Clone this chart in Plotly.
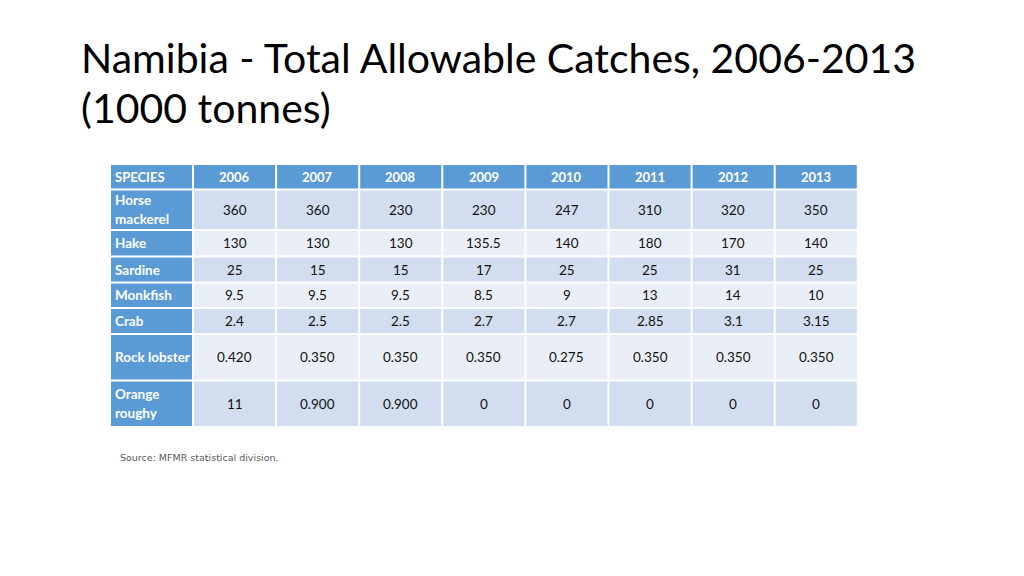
import plotly.graph_objects as go

# ---- data ----
years = ["2006", "2007", "2008", "2009", "2010", "2011", "2012", "2013"]
species = ["Horse<br>mackerel", "Hake", "Sardine", "Monkfish", "Crab",
           "Rock lobster", "Orange<br>roughy"]
horse_mackerel = ["360", "360", "230", "230", "247", "310", "320", "350"]
hake = ["130", "130", "130", "135.5", "140", "180", "170", "140"]
sardine = ["25", "15", "15", "17", "25", "25", "31", "25"]
monkfish = ["9.5", "9.5", "9.5", "8.5", "9", "13", "14", "10"]
crab = ["2.4", "2.5", "2.5", "2.7", "2.7", "2.85", "3.1", "3.15"]
rock_lobster = ["0.420", "0.350", "0.350", "0.350", "0.275", "0.350", "0.350", "0.350"]
orange_roughy = ["11", "0.900", "0.900", "0", "0", "0", "0", "0"]
rows = [horse_mackerel, hake, sardine, monkfish, crab, rock_lobster, orange_roughy]

title_line1 = "Namibia - Total Allowable Catches, 2006-2013"
title_line2 = "(1000 tonnes)"
source = "Source: MFMR statistical division."

# ---- layout geometry (page pixel space) ----
PAGE_OFF = 8  # default body margin of the html page
x0 = 110
first_w = 83
col_w = 83.1
y0 = 164
header_h = 25.5
row_h = [40.5, 26.5, 26, 25.5, 26, 46.5, 46.5]
gap = 1.0
line_step = 19

BLUE = "#5B9BD5"
BAND_DARK = "#D2DEEF"
BAND_LIGHT = "#EAEFF7"
FONT = "Lato"

col_edges = [x0, x0 + first_w] + [x0 + first_w + col_w * (i + 1) for i in range(len(years))]
row_edges = [y0, y0 + header_h]
for h in row_h:
    row_edges.append(row_edges[-1] + h)

shapes = []
annotations = []

def cell(xa, xb, ya, yb, color):
    shapes.append(dict(type="rect", xref="x", yref="y",
                       x0=xa + gap, x1=xb - gap, y0=ya + gap, y1=yb - gap,
                       fillcolor=color, line=dict(width=0), layer="below"))

# header row
for c in range(len(col_edges) - 1):
    cell(col_edges[c], col_edges[c + 1], row_edges[0], row_edges[1], BLUE)
annotations.append(dict(x=col_edges[0] + 3, y=(row_edges[0] + row_edges[1]) / 2,
                        text="<b>SPECIES</b>", xanchor="left", yanchor="middle",
                        showarrow=False, font=dict(family=FONT, size=13, color="white")))
for i, yr in enumerate(years):
    annotations.append(dict(x=(col_edges[i + 1] + col_edges[i + 2]) / 2,
                            y=(row_edges[0] + row_edges[1]) / 2,
                            text=f"<b>{yr}</b>", xanchor="center", yanchor="middle",
                            showarrow=False, font=dict(family=FONT, size=13, color="white")))

# body rows
for r, (name, vals) in enumerate(zip(species, rows)):
    ya, yb = row_edges[r + 1], row_edges[r + 2]
    ym = (ya + yb) / 2
    band = BAND_DARK if r % 2 == 0 else BAND_LIGHT
    cell(col_edges[0], col_edges[1], ya, yb, BLUE)
    parts = name.split("<br>")
    for k, part in enumerate(parts):
        yl = ym + (k - (len(parts) - 1) / 2) * line_step
        annotations.append(dict(x=col_edges[0] + 3, y=yl, text=f"<b>{part}</b>",
                                xanchor="left", yanchor="middle", align="left",
                                showarrow=False,
                                font=dict(family=FONT, size=13.5, color="white")))
    for c, v in enumerate(vals):
        cell(col_edges[c + 1], col_edges[c + 2], ya, yb, band)
        annotations.append(dict(x=(col_edges[c + 1] + col_edges[c + 2]) / 2, y=ym,
                                text=v, xanchor="center", yanchor="middle",
                                showarrow=False,
                                font=dict(family=FONT, size=13.5, color="#111111")))

# titles
annotations.append(dict(x=79, y=57, text=title_line1, xanchor="left", yanchor="middle",
                        showarrow=False, font=dict(family=FONT, size=41, color="black")))
annotations.append(dict(x=79, y=107, text=title_line2, xanchor="left", yanchor="middle",
                        showarrow=False, font=dict(family=FONT, size=41, color="black")))
annotations.append(dict(x=118, y=457, text=source, xanchor="left", yanchor="middle",
                        showarrow=False, font=dict(family="DejaVu Sans", size=9.5, color="#595959")))

fig = go.Figure()
fig.add_trace(go.Scatter(x=[PAGE_OFF + 1], y=[PAGE_OFF + 1], mode="markers",
                         marker=dict(opacity=0), hoverinfo="skip", showlegend=False))
fig.update_layout(
    width=1024 - PAGE_OFF, height=576 - PAGE_OFF,
    margin=dict(l=0, r=0, t=0, b=0),
    paper_bgcolor="white", plot_bgcolor="white",
    xaxis=dict(range=[PAGE_OFF, 1024], visible=False, fixedrange=True),
    yaxis=dict(range=[576, PAGE_OFF], visible=False, fixedrange=True),
    shapes=shapes, annotations=annotations,
    showlegend=False,
)
fig.write_html("out.html")
